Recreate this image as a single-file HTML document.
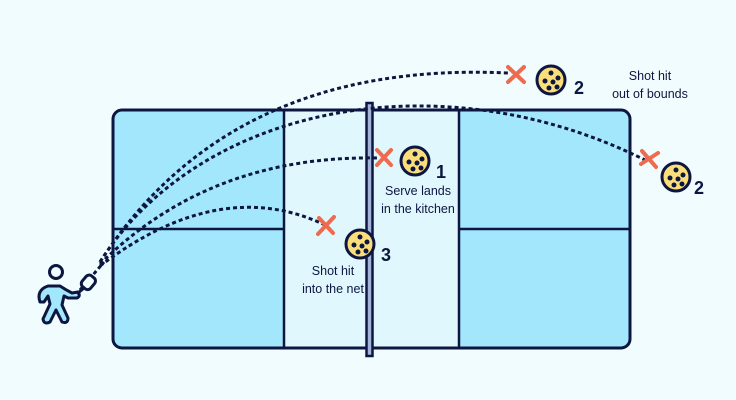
<!DOCTYPE html>
<html><head><meta charset="utf-8"><style>
html,body{margin:0;padding:0;background:#f1fcfe;}
svg{display:block}
text{font-family:"Liberation Sans",sans-serif;fill:#0d1640}
</style></head><body>
<svg width="736" height="400" viewBox="0 0 736 400" xmlns="http://www.w3.org/2000/svg">
<rect width="736" height="400" fill="#f1fcfe"/>
<!-- court -->
<rect x="113" y="110" width="517" height="238" rx="9" fill="#a3e7fc" stroke="#0d1640" stroke-width="3"/>
<rect x="284" y="111.5" width="175" height="235" fill="#e0f7fd"/>
<line x1="284" y1="110" x2="284" y2="348" stroke="#0d1640" stroke-width="2.5"/>
<line x1="459" y1="110" x2="459" y2="348" stroke="#0d1640" stroke-width="2.5"/>
<line x1="113" y1="229" x2="284" y2="229" stroke="#0d1640" stroke-width="2.5"/>
<line x1="459" y1="229" x2="630" y2="229" stroke="#0d1640" stroke-width="2.5"/>
<rect x="366.5" y="103" width="6" height="253" fill="#a3b4d8" stroke="#0d1640" stroke-width="2.5"/>
<!-- trajectories -->
<g fill="none" stroke="#0d1640" stroke-width="3" stroke-dasharray="4 3">
<path d="M100,262 Q230,60 508,73"/>
<path d="M100,262 C200,105 440,58 645,160"/>
<path d="M100,264 Q210,155 378,158"/>
<path d="M100,266 Q220,175 325,225"/>
<path d="M80,290 L104,262"/>
</g>
<!-- X marks -->
<g stroke="#ef6b4e" stroke-width="4" stroke-linecap="round">
<path d="M508,67 L524,82 M524,67 L508,82"/>
<path d="M377,150 L391,165 M391,150 L377,165"/>
<path d="M319,218 L333,233 M334,217 L318,234"/>
<path d="M642,151 L656,167 M658,153 L641,164"/>
</g>
<!-- balls -->
<g stroke="#0d1640" stroke-width="3" fill="#f9de7a">
<circle cx="551" cy="80" r="14"/>
<circle cx="676" cy="177" r="14"/>
<circle cx="415" cy="161" r="14"/>
<circle cx="360" cy="244" r="14"/>
</g>
<g fill="#0d1640">
<circle cx="551" cy="73" r="2.5"/><circle cx="545" cy="81" r="2.5"/><circle cx="553" cy="82" r="2.5"/><circle cx="558" cy="78" r="2.5"/><circle cx="549" cy="88" r="2.5"/><circle cx="557" cy="87" r="2.5"/>
<circle cx="676" cy="170" r="2.5"/><circle cx="670" cy="178" r="2.5"/><circle cx="678" cy="179" r="2.5"/><circle cx="683" cy="175" r="2.5"/><circle cx="674" cy="185" r="2.5"/><circle cx="682" cy="184" r="2.5"/>
<circle cx="415" cy="154" r="2.5"/><circle cx="409" cy="162" r="2.5"/><circle cx="417" cy="163" r="2.5"/><circle cx="422" cy="159" r="2.5"/><circle cx="413" cy="169" r="2.5"/><circle cx="421" cy="168" r="2.5"/>
<circle cx="360" cy="237" r="2.5"/><circle cx="354" cy="245" r="2.5"/><circle cx="362" cy="246" r="2.5"/><circle cx="367" cy="242" r="2.5"/><circle cx="358" cy="252" r="2.5"/><circle cx="366" cy="251" r="2.5"/>
</g>
<!-- numbers -->
<g font-weight="bold" font-size="18">
<text x="574" y="94">2</text>
<text x="694" y="194">2</text>
<text x="436" y="178">1</text>
<text x="381" y="261">3</text>
</g>
<g font-size="12.5" text-anchor="middle">
<text x="650" y="80">Shot hit</text>
<text x="650" y="98">out of bounds</text>
<text x="418" y="195">Serve lands</text>
<text x="418" y="213">in the kitchen</text>
<text x="333" y="275">Shot hit</text>
<text x="333" y="293">into the net</text>
</g>
<!-- player -->
<g stroke="#0d1640" stroke-width="3" stroke-linejoin="round" stroke-linecap="round">
<circle cx="56" cy="272" r="6.5" fill="#f1fcfe"/>
<path d="M40,302 Q36,290 48,286 L60,286 Q66,290 72,293 L78,292 Q81,296 77,298 L68,298 L64,296 L62,305 L68,318 Q68,324 62,322 L56,310 L50,322 Q44,325 43,319 L50,304 L48,296 L44,302 Z" fill="#a3e7fc"/>
<path d="M78,293 L84,288" fill="none"/>
<rect x="83" y="275" width="11" height="14" rx="4" fill="#f1fcfe" transform="rotate(40 88 282)"/>
</g>
</svg>
</body></html>
